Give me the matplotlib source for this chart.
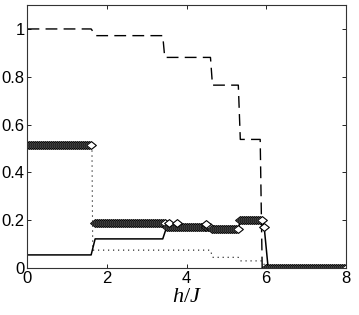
import matplotlib
matplotlib.use("Agg")
import matplotlib.pyplot as plt
from matplotlib.path import Path
import numpy as np

# dashed curve vertices
dash_h = [0, 1.6, 1.72, 3.4, 3.45, 4.6, 4.65, 5.3, 5.35, 5.85, 5.9, 8]
dash_v = [1.0, 1.0, 0.972, 0.972, 0.881, 0.881, 0.765, 0.765, 0.538, 0.538, 0.0, 0.0]

# solid curve vertices
solid_h = [0, 1.6, 1.7, 3.4, 3.5, 4.6, 4.65, 5.3, 5.35, 5.9, 5.95, 6.05, 8]
solid_v = [0.055, 0.055, 0.122, 0.122, 0.172, 0.172, 0.165, 0.165, 0.2, 0.2, 0.172, 0.0, 0.0]

# dotted curve vertices
dot_h = [0, 1.62, 1.64, 4.6, 4.65, 5.3, 5.35, 5.9, 6.0, 8]
dot_v = [0.515, 0.515, 0.075, 0.075, 0.045, 0.045, 0.03, 0.03, 0.0, 0.0]

# diamond series: plateaus sampled every 0.05
seg_start = [0.0, 1.7, 3.5, 4.65, 5.35, 5.95, 6.0]
seg_end   = [1.6, 3.45, 4.6, 5.3, 5.9, 5.95, 8.0]
seg_level = [0.515, 0.19, 0.172, 0.165, 0.2, 0.172, 0.0]
bump_h = [3.55, 3.75, 4.5]
bump_v = [0.19, 0.19, 0.185]

dia_h, dia_v = [], []
for a, b, lv in zip(seg_start, seg_end, seg_level):
    n = int(round((b - a) / 0.05)) + 1
    for k in range(n):
        dia_h.append(round(a + 0.05 * k, 2))
        dia_v.append(lv)
for bh, bv in zip(bump_h, bump_v):
    dia_h.append(bh)
    dia_v.append(bv)

plt.rcParams["font.family"] = ["Liberation Sans", "DejaVu Sans"]
plt.rcParams["mathtext.fontset"] = "custom"
plt.rcParams["mathtext.it"] = "Liberation Serif:italic"
plt.rcParams["mathtext.rm"] = "Liberation Serif"

# wider-than-tall diamond, like the MATLAB one
diamond = Path([(-1, 0), (0, 0.8), (1, 0), (0, -0.8), (-1, 0)], closed=True)

fig = plt.figure(figsize=(3.59, 3.15), dpi=100)
ax = fig.add_axes([0.0766, 0.149, 0.963 - 0.0766, 0.984 - 0.149])

ax.plot(dash_h, dash_v, color="black", lw=1.0, ls=(0, (8.5, 4.5)))
ax.plot(dot_h, dot_v, color="black", lw=0.8, ls=(0, (1, 3.5)))
ax.plot(solid_h, solid_v, color="black", lw=1.1)
ax.plot(dia_h, dia_v, ls="none", marker=diamond,
        ms=7, mfc="white", mec="black", mew=0.8)

ax.set_xlim(0, 8)
ax.set_ylim(0, 1.1)
ax.set_xticks([0, 2, 4, 6, 8])
ax.set_yticks([0, 0.2, 0.4, 0.6, 0.8, 1.0])
ax.set_yticklabels(["0", "0.2", "0.4", "0.6", "0.8", "1"])
ax.tick_params(direction="in", top=True, right=True, length=3,
               labelsize=12, width=0.6, pad=2)
for sp in ax.spines.values():
    sp.set_linewidth(0.8)
    sp.set_color("#333333")
ax.set_xlabel("$h/J$", fontsize=16, labelpad=0)

fig.savefig("out.png", dpi=100)
